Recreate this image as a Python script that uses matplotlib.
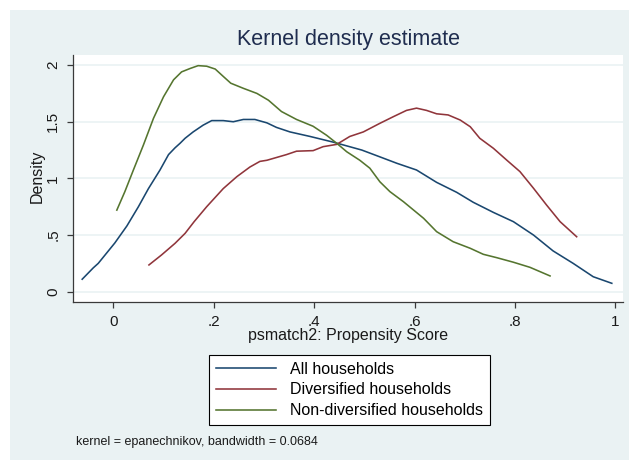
import matplotlib
matplotlib.use("Agg")
import matplotlib.pyplot as plt
from matplotlib.patches import Rectangle

plt.rcParams['font.family'] = ['Liberation Sans', 'DejaVu Sans']

#%% values
x_all = [-0.062, -0.040, -0.030, 0.003, 0.027, 0.050, 0.070, 0.093, 0.110, 0.123, 0.133,
         0.143, 0.159, 0.179, 0.196, 0.219, 0.239, 0.259, 0.282, 0.306, 0.325, 0.352,
         0.392, 0.438, 0.495, 0.531, 0.565, 0.604, 0.644, 0.684, 0.717, 0.757, 0.797,
         0.837, 0.876, 0.916, 0.956, 0.993]
y_all = [0.11, 0.21, 0.25, 0.43, 0.58, 0.75, 0.91, 1.074, 1.21, 1.27, 1.31,
         1.354, 1.41, 1.47, 1.51, 1.51, 1.50, 1.52, 1.52, 1.49, 1.45, 1.41,
         1.37, 1.32, 1.25, 1.19, 1.133, 1.074, 0.965, 0.877, 0.789, 0.70, 0.618,
         0.50, 0.36, 0.25, 0.132, 0.074]

x_div = [0.071, 0.096, 0.123, 0.143, 0.161, 0.186, 0.219, 0.246, 0.272, 0.292, 0.306,
         0.345, 0.365, 0.398, 0.418, 0.445, 0.471, 0.498, 0.531, 0.558, 0.584, 0.604,
         0.624, 0.644, 0.667, 0.691, 0.711, 0.730, 0.757, 0.784, 0.810, 0.837, 0.863,
         0.890, 0.923]
y_div = [0.236, 0.324, 0.427, 0.515, 0.618, 0.75, 0.91, 1.015, 1.10, 1.15, 1.16,
         1.21, 1.24, 1.245, 1.28, 1.30, 1.37, 1.41, 1.486, 1.545, 1.60, 1.62,
         1.60, 1.57, 1.56, 1.515, 1.456, 1.354, 1.266, 1.16, 1.06, 0.913, 0.765,
         0.618, 0.485]

x_non = [0.007, 0.023, 0.040, 0.060, 0.080, 0.100, 0.120, 0.136, 0.153, 0.169, 0.186,
         0.203, 0.219, 0.234, 0.259, 0.286, 0.309, 0.335, 0.365, 0.398, 0.425, 0.445,
         0.465, 0.491, 0.511, 0.531, 0.551, 0.578, 0.618, 0.644, 0.677, 0.711, 0.737,
         0.764, 0.797, 0.830, 0.870]
y_non = [0.72, 0.883, 1.074, 1.295, 1.53, 1.72, 1.87, 1.94, 1.97, 1.995, 1.99,
         1.965, 1.90, 1.84, 1.795, 1.75, 1.69, 1.59, 1.52, 1.46, 1.38, 1.31,
         1.235, 1.16, 1.09, 0.97, 0.883, 0.794, 0.648, 0.53, 0.441, 0.383, 0.33,
         0.30, 0.26, 0.215, 0.139]

labels = ['All households', 'Diversified households', 'Non-diversified households']
xticks = [0, 0.2, 0.4, 0.6, 0.8, 1]
xtick_labels = ['0', '.2', '.4', '.6', '.8', '1']
yticks = [0, 0.5, 1, 1.5, 2]
ytick_labels = ['0', '.5', '1', '1.5', '2']

#%% figure with stata-like background
W, H = 629, 461
fig = plt.figure(figsize=(W / 100, H / 100), dpi=100, facecolor='white')
bg = '#EAF2F3'
fig.patches.append(Rectangle((10 / W, 1 - 460 / H), 619 / W, 450 / H,
                             transform=fig.transFigure, facecolor=bg,
                             edgecolor='none', zorder=-10))

ax = fig.add_axes([72.7 / W, 1 - 302 / H, (623 - 72.7) / W, (302 - 55) / H])
ax.set_facecolor('white')

ax.plot(x_all, y_all, color='#1a476f', lw=1.15, label=labels[0])
ax.plot(x_div, y_div, color='#90353b', lw=1.15, label=labels[1])
ax.plot(x_non, y_non, color='#55752f', lw=1.15, label=labels[2])

ax.set_xlim(-0.0809, 1.0153)
ax.set_ylim(-0.091, 2.089)

for v in yticks:
    ax.axhline(v, color=bg, lw=1.2, zorder=0)

ax.spines['top'].set_visible(False)
ax.spines['right'].set_visible(False)
for s in ['left', 'bottom']:
    ax.spines[s].set_color('#3a3a3a')
    ax.spines[s].set_linewidth(0.9)

ax.set_xticks(xticks)
ax.set_xticklabels(xtick_labels)
ax.set_yticks(yticks)
ax.set_yticklabels(ytick_labels)
ax.tick_params(axis='both', length=4.3, width=0.9, color='#3a3a3a',
               labelsize=11, labelcolor='#1a1a1a', pad=4.7)
for lab in ax.get_yticklabels():
    lab.set_rotation(90)
    lab.set_va('center')

ax.set_xlabel('psmatch2: Propensity Score', fontsize=11.5, color='#1a1a1a')
ax.xaxis.set_label_coords(0.5, (302 - 335) / 247)
ax.xaxis.label.set_va('center')
ax.set_ylabel('Density', fontsize=11.5, color='#1a1a1a')
ax.yaxis.set_label_coords((37 - 72.7) / 550.3, (302 - 176.5) / 247)
ax.yaxis.label.set_va('center')

fig.text(349 / W, 1 - 40 / H, 'Kernel density estimate', fontsize=15.5,
         color='#1f2d4f', ha='center', va='center')

leg = fig.legend(loc='center', bbox_to_anchor=(349.5 / W, 1 - 390 / H),
                 fontsize=11.5, frameon=True, fancybox=False, framealpha=1,
                 edgecolor='black', handlelength=3.75, handletextpad=0.9,
                 labelspacing=0.35, borderpad=0.45, borderaxespad=0)
leg.get_frame().set_linewidth(0.8)

fig.text(76 / W, 1 - 442 / H, 'kernel = epanechnikov, bandwidth = 0.0684',
         fontsize=9, color='#1a1a1a', ha='left', va='center')

plt.savefig('out.png', dpi=100, facecolor='white')
